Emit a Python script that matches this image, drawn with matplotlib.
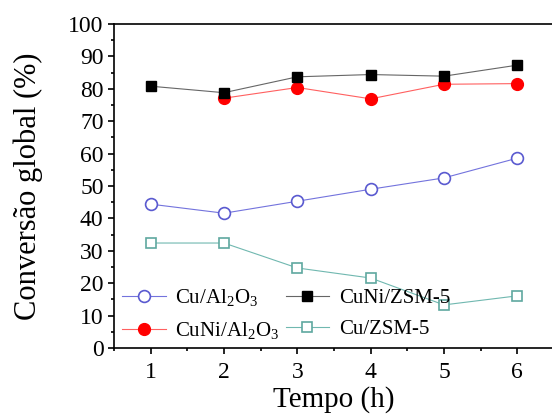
import matplotlib
matplotlib.use('Agg')
import matplotlib.pyplot as plt
from matplotlib.ticker import MultipleLocator

# Data
tempo = [1, 2, 3, 4, 5, 6]
cu_al2o3 = [44.4, 41.6, 45.3, 49.0, 52.5, 58.6]
cuni_al2o3 = [None, 77.1, 80.4, 76.9, 81.4, 81.6]
cuni_zsm5 = [80.8, 78.8, 83.7, 84.4, 83.9, 87.3]
cu_zsm5 = [32.4, 32.4, 24.7, 21.6, 13.3, 16.1]

plt.rcParams['font.family'] = ['Liberation Serif', 'DejaVu Serif']
plt.rcParams['mathtext.fontset'] = 'custom'
plt.rcParams['mathtext.rm'] = 'Liberation Serif'

fig = plt.figure(figsize=(5.52, 4.15), dpi=100)
ax = fig.add_axes([114 / 552, 1 - 348 / 415, 440 / 552, 324 / 415])

t_red = [t for t, v in zip(tempo, cuni_al2o3) if v is not None]
v_red = [v for v in cuni_al2o3 if v is not None]

l1, = ax.plot(tempo, cu_al2o3, color='#7373dd', lw=0.8, marker='o', ms=8.5,
              mfc='white', mec='#5a5ad0', mew=1.2, label=r'Cu/Al$_2$O$_3$')
l2, = ax.plot(t_red, v_red, color='#ff6060', lw=0.8, marker='o', ms=8.5,
              mfc='#ff0000', mec='#ff0000', label=r'CuNi/Al$_2$O$_3$')
l3, = ax.plot(tempo, cuni_zsm5, color='#666666', lw=0.8, marker='s', ms=7.5,
              mfc='black', mec='black', label='CuNi/ZSM-5')
l4, = ax.plot(tempo, cu_zsm5, color='#70b8b0', lw=0.8, marker='s', ms=7.5,
              mfc='white', mec='#5fa8a0', mew=1.2, label='Cu/ZSM-5')

ax.set_xlim(0.5, 6.5)
ax.set_ylim(0, 100)
ax.xaxis.set_major_locator(MultipleLocator(1))
ax.xaxis.set_minor_locator(MultipleLocator(0.5))
ax.yaxis.set_major_locator(MultipleLocator(10))
ax.yaxis.set_minor_locator(MultipleLocator(5))
ax.tick_params(which='both', direction='out', labelsize=17, width=1.2)
ax.tick_params(which='major', length=4.5)
ax.tick_params(which='minor', length=2.5)
ax.tick_params(axis='x', pad=5.5)
ax.tick_params(axis='y', pad=3)
for s in ax.spines.values():
    s.set_linewidth(1.2)

ax.set_xlabel('Tempo (h)', fontsize=21, labelpad=2)
ax.set_ylabel('Conversão global (%)', fontsize=22, labelpad=18)

ax.legend(handles=[l1, l2, l3, l4], ncol=2, frameon=False, fontsize=15,
          loc='lower left', bbox_to_anchor=(-0.01, -0.02), handlelength=2.1,
          handletextpad=0.45, columnspacing=0.3, labelspacing=0.55,
          borderaxespad=0.2)

fig.savefig('out.png', dpi=100)
